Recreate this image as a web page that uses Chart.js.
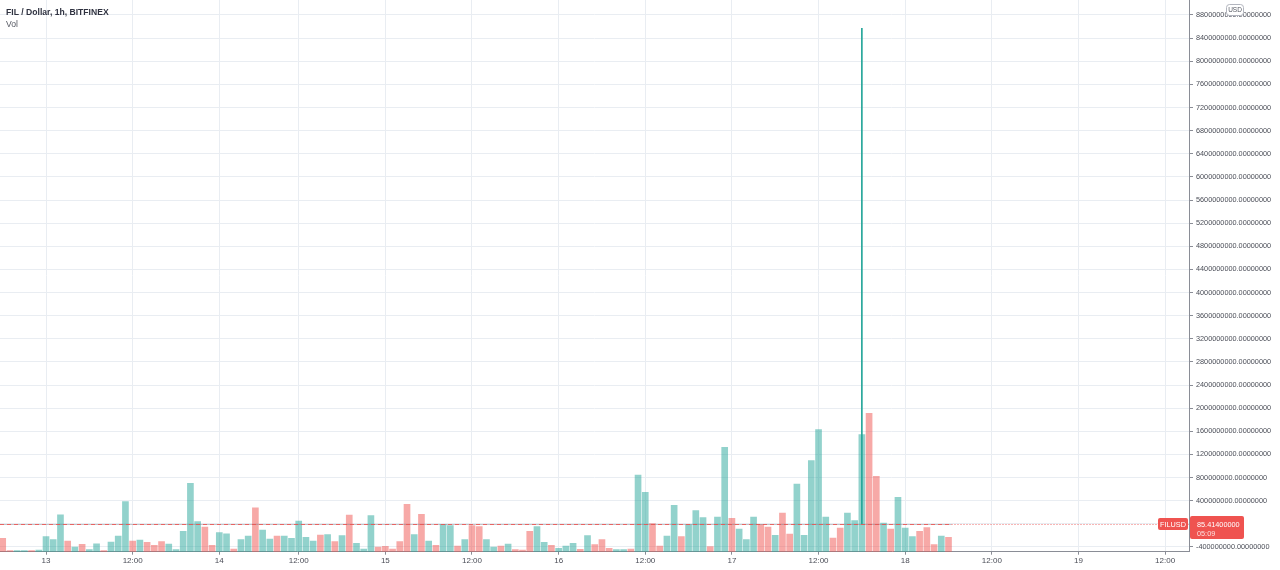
<!DOCTYPE html>
<html><head><meta charset="utf-8">
<script src="https://cdn.jsdelivr.net/npm/chart.js@4.4.1/dist/chart.umd.min.js"></script>
<style>html,body{margin:0;padding:0;background:#fff;}canvas{display:block;}</style>
</head><body>
<canvas id="c" width="1280" height="570"></canvas>
<script>
// ---- data (hourly bars, 12th 18:00 -> 18th 06:00, one missing hour on the 14th) ----
const volume = [
  133,10,10,10,10,17,150,120,368,107,
  45,73,20,78,10,97,155,502,107,115,
  93,63,100,77,20,203,683,302,247,63,
  192,178,27,120,157,438,217,127,157,157,
  133,305,143,107,165,172,100,160,367,83,
  27,360,47,53,27,100,473,170,373,107,
  63,273,260,57,120,260,250,120,47,57,
  77,20,17,203,250,93,63,33,57,83,
  23,160,70,120,33,20,20,27,767,593,
  280,57,157,463,150,270,410,340,50,347,
  1043,333,227,120,347,273,247,163,387,177,
  677,163,910,1220,347,137,237,387,310,1170,
  1383,753,287,227,543,237,150,203,240,70,
  157,143
];
const direction = [
  -1,-1,1,1,-1,1,1,1,1,-1,
  1,-1,1,1,-1,1,1,1,-1,1,
  -1,-1,-1,1,1,1,1,1,-1,-1,
  1,1,-1,1,1,-1,1,1,-1,1,
  1,1,1,1,-1,1,-1,1,-1,1,
  1,1,-1,-1,-1,-1,-1,1,-1,1,
  -1,1,1,-1,1,-1,-1,1,1,-1,
  1,-1,-1,-1,1,1,-1,1,1,1,
  -1,1,-1,-1,-1,1,1,-1,1,1,
  -1,-1,1,1,-1,1,1,1,-1,1,
  1,-1,1,1,1,-1,-1,1,-1,-1,
  1,1,1,1,1,-1,-1,1,1,1,
  -1,-1,1,-1,1,1,1,-1,-1,-1,
  1,-1
];
const xTickIndex  = [6,18,30,41,53,65,77,89,101,113,125,137,149,161];
const xTickLabels = ['13','12:00','14','12:00','15','12:00','16','12:00','17','12:00','18','12:00','19','12:00'];
const yTickValues = [
  -400000000,0,400000000,800000000,1200000000,1600000000,2000000000,2400000000,
  2800000000,3200000000,3600000000,4000000000,4400000000,4800000000,5200000000,
  5600000000,6000000000,6400000000,6800000000,7200000000,7600000000,8000000000,
  8400000000,8800000000
];
const spikeIndex = 119;
const spikeLow = 85.414;
const spikeHigh = 8570000000;
const lastPrice = 85.414;
const lastPriceText = '85.41400000';
const countdownText = '05:09';
const symbolText = 'FILUSD';
const titleText = 'FIL / Dollar, 1h, BITFINEX';
const indicatorText = 'Vol';
const currencyText = 'USD';

// ---- styling ----
const UP = 'rgba(38,166,154,0.5)', DOWN = 'rgba(239,83,80,0.5)';
const GRID = '#e9edf2', AXIS = '#8a8d96', TEXT = '#4a4d57', RED = '#ef5350';
const FONT = '"Liberation Sans", Arial, sans-serif';

function rr(ctx, x, y, w, h, r) {
  ctx.beginPath();
  if (ctx.roundRect) ctx.roundRect(x, y, w, h, r); else ctx.rect(x, y, w, h);
}

const overlay = {
  id: 'overlay',
  afterDatasetsDraw(chart) {
    const { ctx, chartArea: a, scales: { x, y } } = chart;
    const py = Math.round(y.getPixelForValue(lastPrice)) + 0.5;
    const x0 = x.getPixelForValue(0) - 3;
    const x1 = x.getPixelForValue(volume.length - 1) + 3;
    ctx.save();
    ctx.beginPath(); ctx.rect(a.left, a.top, a.right - a.left, a.bottom - a.top); ctx.clip();
    ctx.lineWidth = 1;
    ctx.strokeStyle = 'rgba(120,123,134,0.45)';
    ctx.beginPath(); ctx.moveTo(x0, py); ctx.lineTo(x1, py); ctx.stroke();
    ctx.strokeStyle = 'rgba(239,83,80,0.85)';
    ctx.setLineDash([4, 3]);
    ctx.beginPath(); ctx.moveTo(a.left, py); ctx.lineTo(x1, py); ctx.stroke();
    ctx.setLineDash([1, 2]);
    ctx.beginPath(); ctx.moveTo(x1, py); ctx.lineTo(a.right, py); ctx.stroke();
    ctx.restore();
  },
  afterDraw(chart) {
    const { ctx, chartArea: a, scales: { y } } = chart;
    const py = Math.round(y.getPixelForValue(lastPrice));
    ctx.save();
    // header
    ctx.textBaseline = 'alphabetic'; ctx.textAlign = 'left';
    ctx.fillStyle = '#2f3240';
    ctx.font = 'bold 8.6px ' + FONT;
    ctx.fillText(titleText, 6, 15);
    ctx.fillStyle = '#555862';
    ctx.font = '8.6px ' + FONT;
    ctx.fillText(indicatorText, 6, 26.5);
    // price label on axis
    const ax = a.right + 1;
    ctx.fillStyle = RED;
    rr(ctx, ax, py - 8, 54, 23, 2); ctx.fill();
    ctx.fillStyle = '#fff';
    ctx.font = '7.3px ' + FONT;
    ctx.textBaseline = 'middle';
    ctx.fillText(lastPriceText, ax + 7, py + 0.5);
    ctx.fillStyle = 'rgba(255,255,255,0.82)';
    ctx.fillText(countdownText, ax + 7, py + 10);
    // symbol label
    ctx.fillStyle = RED;
    rr(ctx, a.right - 31, py - 6, 30, 12, 2); ctx.fill();
    ctx.fillStyle = '#fff';
    ctx.textAlign = 'center';
    ctx.font = '7.3px ' + FONT;
    ctx.fillText(symbolText, a.right - 16, py + 0.5);
    // currency badge
    ctx.fillStyle = '#fff';
    ctx.strokeStyle = '#b2b5be';
    ctx.lineWidth = 1;
    rr(ctx, 1226.5, 4.5, 17, 11, 3); ctx.fill(); ctx.stroke();
    ctx.fillStyle = '#555862';
    ctx.font = '6.5px ' + FONT;
    ctx.fillText(currencyText, 1235, 10.5);
    ctx.restore();
  }
};

new Chart(document.getElementById('c'), {
  type: 'bar',
  data: {
    datasets: [
      {
        label: 'Spike',
        data: [{ x: spikeIndex, y: [spikeLow, spikeHigh] }],
        backgroundColor: '#26a69a',
        yAxisID: 'y',
        barThickness: 1,
        grouped: false,
        order: 0
      },
      {
        label: 'Vol',
        data: volume.map((v, i) => ({ x: i, y: v })),
        backgroundColor: direction.map(d => d > 0 ? UP : DOWN),
        yAxisID: 'vol',
        barThickness: 6,
        grouped: false,
        order: 1
      }
    ]
  },
  options: {
    responsive: false,
    animation: false,
    layout: { padding: 0 },
    plugins: { legend: { display: false }, tooltip: { enabled: false } },
    scales: {
      x: {
        type: 'linear',
        min: -0.374,
        max: 164.31,
        offset: false,
        grid: { color: GRID, tickColor: AXIS, tickLength: 3, offset: false },
        border: { color: AXIS, width: 1 },
        ticks: {
          autoSkip: false, maxRotation: 0, padding: 1,
          color: TEXT, font: { family: FONT, size: 8 },
          callback: (v, i) => xTickLabels[i]
        },
        afterBuildTicks: s => { s.ticks = xTickIndex.map(v => ({ value: v })); },
        afterFit: s => { s.height = 18.3; s.paddingLeft = 0; s.paddingRight = 0; s.paddingTop = 0; s.paddingBottom = 0; }
      },
      y: {
        position: 'right',
        min: -482000000,
        max: 9059000000,
        grid: { color: GRID, tickColor: AXIS, tickLength: 4 },
        border: { color: AXIS, width: 1 },
        ticks: {
          autoSkip: false, padding: 3,
          color: TEXT, font: { family: FONT, size: 7.3 },
          callback: v => Number(v).toFixed(8)
        },
        afterBuildTicks: s => { s.ticks = yTickValues.map(v => ({ value: v })); },
        afterFit: s => { s.width = 91; s.paddingTop = 0; s.paddingBottom = 0; s.paddingLeft = 0; s.paddingRight = 0; }
      },
      vol: {
        display: false,
        min: 0,
        max: 5517
      }
    }
  },
  plugins: [overlay]
});
</script>
</body></html>
